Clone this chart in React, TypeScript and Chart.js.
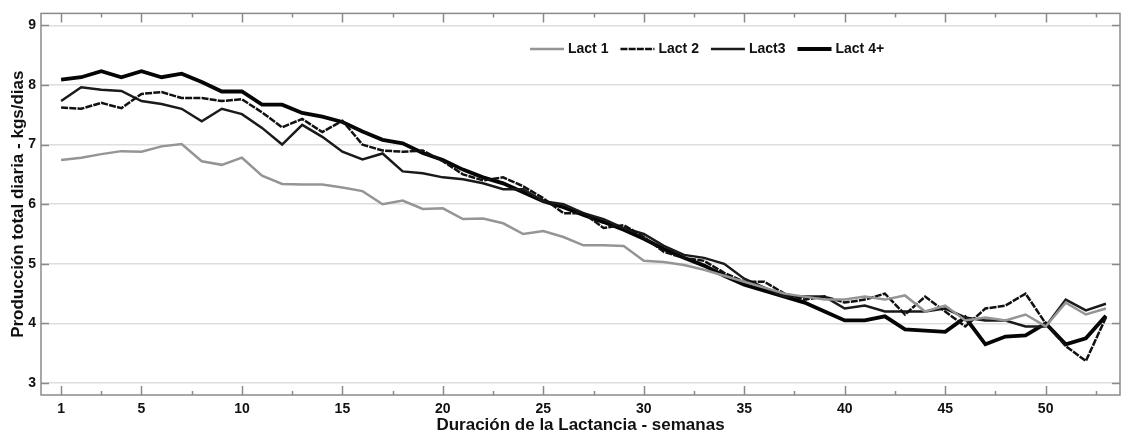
import React, { useEffect, useRef } from "react";
import { Chart, registerables } from "chart.js";

Chart.register(...registerables);

const weeks = [
  1, 2, 3, 4, 5, 6, 7, 8, 9, 10, 11, 12, 13, 14, 15, 16, 17, 18, 19, 20, 21, 22, 23, 24, 25, 26, 27,
  28, 29, 30, 31, 32, 33, 34, 35, 36, 37, 38, 39, 40, 41, 42, 43, 44, 45, 46, 47, 48, 49, 50, 51, 52, 53,
];

const lact1 = [
  6.74, 6.78, 6.84, 6.89, 6.88, 6.97, 7.01, 6.72, 6.66, 6.78, 6.48, 6.34, 6.33, 6.33, 6.28, 6.22, 6.0,
  6.06, 5.92, 5.93, 5.75, 5.76, 5.68, 5.5, 5.55, 5.45, 5.31, 5.31, 5.3, 5.05, 5.03, 4.98, 4.9, 4.8, 4.7,
  4.6, 4.5, 4.45, 4.4, 4.4, 4.45, 4.4, 4.47, 4.2, 4.3, 4.05, 4.1, 4.05, 4.15, 3.95, 4.35, 4.15, 4.25,
];

const lact2 = [
  7.62, 7.6, 7.7, 7.61, 7.85, 7.88, 7.78, 7.78, 7.73, 7.76, 7.54, 7.29, 7.43, 7.21, 7.4, 7.0, 6.9, 6.88,
  6.9, 6.72, 6.5, 6.4, 6.45, 6.3, 6.1, 5.85, 5.85, 5.6, 5.65, 5.45, 5.2, 5.1, 5.05, 4.85, 4.7, 4.7, 4.5,
  4.4, 4.45, 4.35, 4.4, 4.5, 4.15, 4.45, 4.2, 3.95, 4.25, 4.3, 4.5, 4.0, 3.62, 3.37, 4.1,
];

const lact3 = [
  7.73, 7.96, 7.92, 7.9, 7.73, 7.68, 7.6, 7.39, 7.6, 7.51, 7.28, 7.0, 7.33, 7.13, 6.88, 6.75, 6.85, 6.55,
  6.52, 6.45, 6.42, 6.35, 6.25, 6.25, 6.05, 6.0, 5.85, 5.75, 5.6, 5.5, 5.3, 5.15, 5.1, 5.0, 4.75, 4.6,
  4.45, 4.45, 4.45, 4.25, 4.3, 4.2, 4.2, 4.2, 4.25, 4.1, 4.05, 4.05, 3.95, 3.95, 4.4, 4.22, 4.33,
];

const lact4 = [
  8.09, 8.13, 8.23, 8.13, 8.23, 8.13, 8.19, 8.05, 7.89, 7.89, 7.67, 7.67, 7.53, 7.47, 7.38, 7.22, 7.08,
  7.02, 6.86, 6.74, 6.58, 6.45, 6.35, 6.2, 6.05, 5.95, 5.82, 5.7, 5.57, 5.42, 5.25, 5.1, 4.97, 4.8, 4.65,
  4.55, 4.45, 4.35, 4.2, 4.05, 4.05, 4.12, 3.9, 3.88, 3.86, 4.1, 3.65, 3.78, 3.8, 4.0, 3.65, 3.75, 4.13,
];

const seriesLabels = ["Lact 1", "Lact 2", "Lact3", "Lact 4+"];
const xTickValues = [1, 5, 10, 15, 20, 25, 30, 35, 40, 45, 50];
const xMinorTicks = [3, 7.5, 12.5, 17.5, 22.5, 27.5, 32.5, 37.5, 42.5, 47.5, 52.5];
const yTickValues = [3, 4, 5, 6, 7, 8, 9];

const FONT = "'Liberation Sans', Arial, Helvetica, sans-serif";

const framePlugin = {
  id: "frame",
  afterDraw(chart: any) {
    const { ctx, chartArea: a, scales } = chart;
    const xs = scales.x;
    const ys = scales.y;
    ctx.save();
    ctx.strokeStyle = "#8a8a8a";
    ctx.lineWidth = 1.5;
    ctx.strokeRect(a.left, a.top, a.right - a.left, a.bottom - a.top);
    ctx.beginPath();
    for (const v of xTickValues) {
      const px = Math.round(xs.getPixelForValue(v)) + 0.5;
      ctx.moveTo(px, a.bottom);
      ctx.lineTo(px, a.bottom - 9);
      ctx.moveTo(px, a.top);
      ctx.lineTo(px, a.top + 9);
    }
    for (const v of xMinorTicks) {
      const px = Math.round(xs.getPixelForValue(v)) + 0.5;
      ctx.moveTo(px, a.bottom);
      ctx.lineTo(px, a.bottom - 4);
      ctx.moveTo(px, a.top);
      ctx.lineTo(px, a.top + 4);
    }
    for (const v of yTickValues) {
      const py = Math.round(ys.getPixelForValue(v)) + 0.5;
      ctx.moveTo(a.left, py);
      ctx.lineTo(a.left + 8, py);
      ctx.moveTo(a.right, py);
      ctx.lineTo(a.right - 8, py);
    }
    ctx.stroke();

    // legend
    ctx.font = `bold 14px ${FONT}`;
    ctx.textBaseline = "middle";
    let lx = 530;
    const ly = 49;
    chart.data.datasets.forEach((ds: any) => {
      ctx.beginPath();
      ctx.strokeStyle = ds.borderColor;
      ctx.lineWidth = ds.borderWidth;
      ctx.setLineDash(ds.borderDash || []);
      ctx.moveTo(lx, ly);
      ctx.lineTo(lx + 34, ly);
      ctx.stroke();
      ctx.setLineDash([]);
      ctx.fillStyle = "#111";
      ctx.fillText(ds.label, lx + 38, ly);
      lx += 38 + ctx.measureText(ds.label).width + 12;
    });
    ctx.restore();
  },
};

export default function App() {
  const ref = useRef<HTMLCanvasElement | null>(null);

  useEffect(() => {
    document.body.style.margin = "0";
    const canvas = ref.current;
    if (!canvas) return;
    const mk = (vals: number[]) => weeks.map((w, i) => ({ x: w, y: vals[i] }));
    const chart = new Chart(canvas, {
      type: "line",
      data: {
        datasets: [
          { label: seriesLabels[0], data: mk(lact1), borderColor: "#959595", borderWidth: 2.5, pointRadius: 0, tension: 0 },
          { label: seriesLabels[1], data: mk(lact2), borderColor: "#111111", borderWidth: 2.5, borderDash: [7, 1.2], pointRadius: 0, tension: 0 },
          { label: seriesLabels[2], data: mk(lact3), borderColor: "#1a1a1a", borderWidth: 2.5, pointRadius: 0, tension: 0 },
          { label: seriesLabels[3], data: mk(lact4), borderColor: "#050505", borderWidth: 3.8, pointRadius: 0, tension: 0 },
        ],
      },
      options: {
        animation: false,
        responsive: false,
        devicePixelRatio: 1,
        layout: { padding: { left: 0, top: 10, right: 1, bottom: 0 } },
        plugins: { legend: { display: false }, tooltip: { enabled: false } },
        scales: {
          x: {
            type: "linear",
            min: 0,
            max: 53.7,
            afterFit: (s: any) => {
              s.height = 43;
            },
            afterBuildTicks: (s: any) => {
              s.ticks = xTickValues.map((v) => ({ value: v }));
            },
            grid: { display: false, drawTicks: false },
            border: { display: false },
            ticks: {
              padding: 6,
              maxRotation: 0,
              autoSkip: false,
              color: "#111",
              font: { family: FONT, size: 14, weight: "bold" },
            },
            title: {
              display: true,
              text: "Duración de la Lactancia - semanas",
              color: "#111",
              font: { family: FONT, size: 17, weight: "bold" },
              padding: { top: 0, bottom: 2 },
            },
          },
          y: {
            type: "linear",
            min: 2.8,
            max: 9.2,
            afterFit: (s: any) => {
              s.width = 41;
            },
            afterBuildTicks: (s: any) => {
              s.ticks = yTickValues.map((v) => ({ value: v }));
            },
            grid: { color: "#dedede", lineWidth: 1.5, drawTicks: false },
            border: { display: false },
            ticks: {
              padding: 5,
              color: "#111",
              font: { family: FONT, size: 14, weight: "bold" },
            },
            title: {
              display: true,
              text: "Producción total diaria - kgs/dias",
              color: "#111",
              font: { family: FONT, size: 17, weight: "bold" },
              padding: { top: 8, bottom: 0 },
            },
          },
        },
      },
      plugins: [framePlugin],
    });
    return () => chart.destroy();
  }, []);

  return (
    <div style={{ position: "fixed", left: 0, top: 0, width: 1121, height: 438, background: "#fff" }}>
      <canvas ref={ref} width={1121} height={438} style={{ width: 1121, height: 438, display: "block" }} />
    </div>
  );
}
